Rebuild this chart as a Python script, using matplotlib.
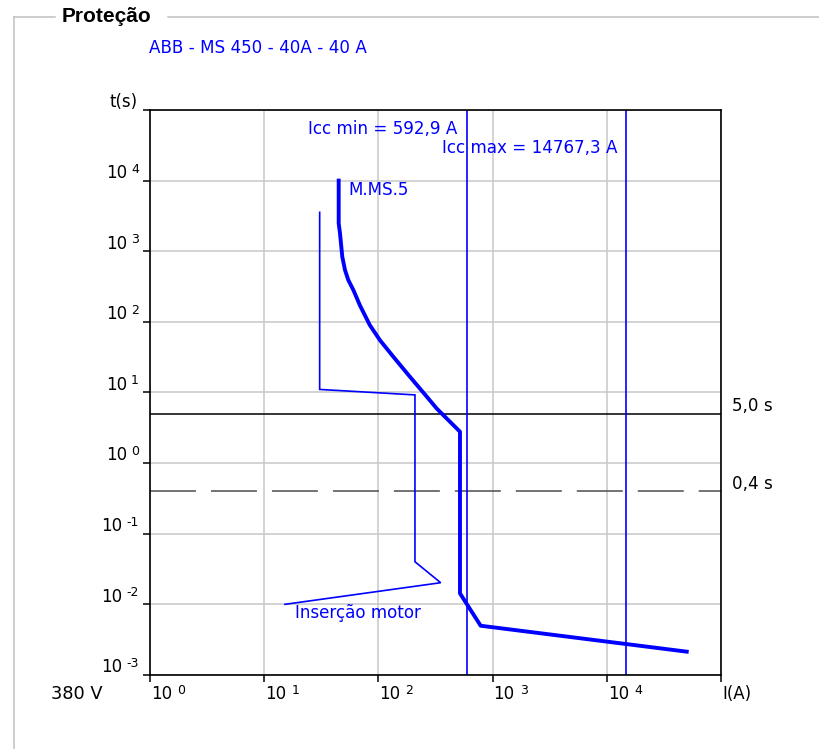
import matplotlib
matplotlib.use('Agg')
import matplotlib.pyplot as plt
from matplotlib import transforms as mtrans
from matplotlib.transforms import offset_copy
from matplotlib.lines import Line2D
from matplotlib.font_manager import FontProperties
from matplotlib.ticker import NullLocator

plt.rcParams['font.family'] = ['DejaVu Sans']
plt.rcParams['lines.scale_dashes'] = False

# ---------------- data ----------------
main_I = [44.9, 44.9, 46.1, 48.3, 51, 54.5, 60.4, 69, 84, 103, 135, 189, 265, 324, 518, 518, 786, 50100]
main_t = [10000, 2480, 1790, 830, 540, 390, 281, 170, 90, 55, 32, 16.6, 8.7, 5.9, 2.77, 0.0142, 0.00494, 0.00212]
motor_I = [30.6, 30.6, 209, 209, 351, 15.2]
motor_t = [3550, 11, 9.2, 0.0398, 0.0201, 0.00993]
icc_values = [592.9, 14767.3]
icc_labels = ['Icc min = 592,9 A', 'Icc max = 14767,3 A']
time_limits = [5.0, 0.4]
time_labels = ['5,0 s', '0,4 s']
x_exps = [0, 1, 2, 3, 4]
y_exps = [-3, -2, -1, 0, 1, 2, 3, 4]
panel_title = 'Proteção'
device_title = 'ABB - MS 450 - 40A - 40 A'
main_name = 'M.MS.5'
motor_name = 'Inserção motor'
voltage_label = '380 V'
x_name = 'I(A)'
y_name = 't(s)'

BLUE = '#0000ff'
W, H = 819, 749
L, R, T, B = 150, 721, 110, 674.7
FS = 12.1

fig = plt.figure(figsize=(W / 100, H / 100), dpi=100)
fig.patch.set_facecolor('white')
ax = fig.add_axes([L / W, 1 - B / H, (R - L) / W, (B - T) / H])
ax.set_xscale('log')
ax.set_yscale('log')
ax.set_xlim(1, 1e5)
ax.set_ylim(1e-3, 1e5)
ax.set_xticks([10.0 ** e for e in range(0, 6)])
ax.set_yticks([10.0 ** e for e in range(-3, 6)])
ax.xaxis.set_minor_locator(NullLocator())
ax.yaxis.set_minor_locator(NullLocator())
ax.tick_params(direction='out', length=5, width=1.1, color='black',
               labelbottom=False, labelleft=False)
ax.grid(True, color='#c8c8c8', lw=1.1, zorder=0)
ax.set_axisbelow(True)
for sp in ax.spines.values():
    sp.set_linewidth(1.2)
    sp.set_color('black')
    sp.set_zorder(10)

# frame (fieldset-like)
frame_c = '#c0c0c0'
fig.add_artist(Line2D([14 / W, 14 / W], [1 - 17 / H, 0], color=frame_c, lw=1.1, transform=fig.transFigure))
fig.add_artist(Line2D([14 / W, 55 / W], [1 - 17 / H, 1 - 17 / H], color=frame_c, lw=1.1, transform=fig.transFigure))
fig.add_artist(Line2D([168 / W, 1], [1 - 17 / H, 1 - 17 / H], color=frame_c, lw=1.1, transform=fig.transFigure))

fig.text(62 / W, 1 - 22.5 / H, panel_title, family='Liberation Sans', fontweight='bold',
         fontsize=15, va='baseline', ha='left')
fig.text(149 / W, 1 - 53.3 / H, device_title, color=BLUE, fontsize=FS, va='baseline', ha='left')

# time limit lines
ax.axhline(time_limits[0], color='black', lw=1.1, zorder=2)
ax.axhline(time_limits[1], color='#4d4d4d', lw=1.1, linestyle=(0, (33.1, 10.8)), zorder=2)
ytr = ax.get_yaxis_transform()
for tv, tl in zip(time_limits, time_labels):
    ax.text(1, tv, tl, fontsize=FS, ha='left', va='baseline',
            transform=offset_copy(ytr, fig, x=11, y=2.5, units='dots'))

# curves
ax.plot(motor_I, motor_t, color=BLUE, lw=1.2, zorder=3, solid_joinstyle='miter')
ax.plot(main_I, main_t, color=BLUE, lw=2.8, zorder=4, solid_joinstyle='round')
ax.annotate(main_name, (main_I[0], main_t[0]), xytext=(9.5, -14.3), textcoords='offset pixels',
            color=BLUE, fontsize=FS, ha='left', va='baseline')
ax.annotate(motor_name, (motor_I[-1], motor_t[-1]), xytext=(10, -14), textcoords='offset pixels',
            color=BLUE, fontsize=FS, ha='left', va='baseline')

# Icc lines
btr = mtrans.blended_transform_factory(ax.transData, ax.transAxes)
for v, lab, yb in zip(icc_values, icc_labels, [134, 153]):
    ax.axvline(v, color=BLUE, lw=1.2, zorder=5)
    ax.text(v, (B - yb) / (B - T), lab, color=BLUE, fontsize=FS, ha='right', va='baseline',
            transform=offset_copy(btr, fig, x=-9, y=0, units='dots'))

# tick labels (10 + superscript exponent)
fp_base = FontProperties(family='DejaVu Sans', size=12)
fp_exp = FontProperties(family='DejaVu Sans', size=9)
fig.canvas.draw()
rend = fig.canvas.get_renderer()


def tw(s, fp):
    return rend.get_text_width_height_descent(s, fp, ismath=False)[0]


for e in y_exps:
    es = str(e)
    ax.text(0, 10.0 ** e, es, fontproperties=fp_exp, ha='right', va='baseline',
            transform=offset_copy(ytr, fig, x=-11, y=8, units='dots'))
    ax.text(0, 10.0 ** e, '10', fontproperties=fp_base, ha='right', va='baseline',
            transform=offset_copy(ytr, fig, x=-11 - tw(es, fp_exp) - 4, y=2.5, units='dots'))

xtr = ax.get_xaxis_transform()
w10 = tw('10', fp_base)
for e in x_exps:
    ax.text(10.0 ** e, 0, '10', fontproperties=fp_base, ha='left', va='baseline',
            transform=offset_copy(xtr, fig, x=1, y=-24.3, units='dots'))
    ax.text(10.0 ** e, 0, str(e), fontproperties=fp_exp, ha='left', va='baseline',
            transform=offset_copy(xtr, fig, x=1 + w10 + 5, y=-19.3, units='dots'))

ax.text(0, 1, y_name, fontproperties=fp_base, ha='right', va='baseline',
        transform=offset_copy(ax.transAxes, fig, x=-12, y=3, units='dots'))
ax.text(1, 0, x_name, fontproperties=fp_base, ha='left', va='baseline',
        transform=offset_copy(ax.transAxes, fig, x=1, y=-24.3, units='dots'))
fig.text(51 / W, 1 - 699 / H, voltage_label, fontproperties=FontProperties(family='DejaVu Sans', size=12.8),
         ha='left', va='baseline')

fig.savefig('out.png', dpi=100)
